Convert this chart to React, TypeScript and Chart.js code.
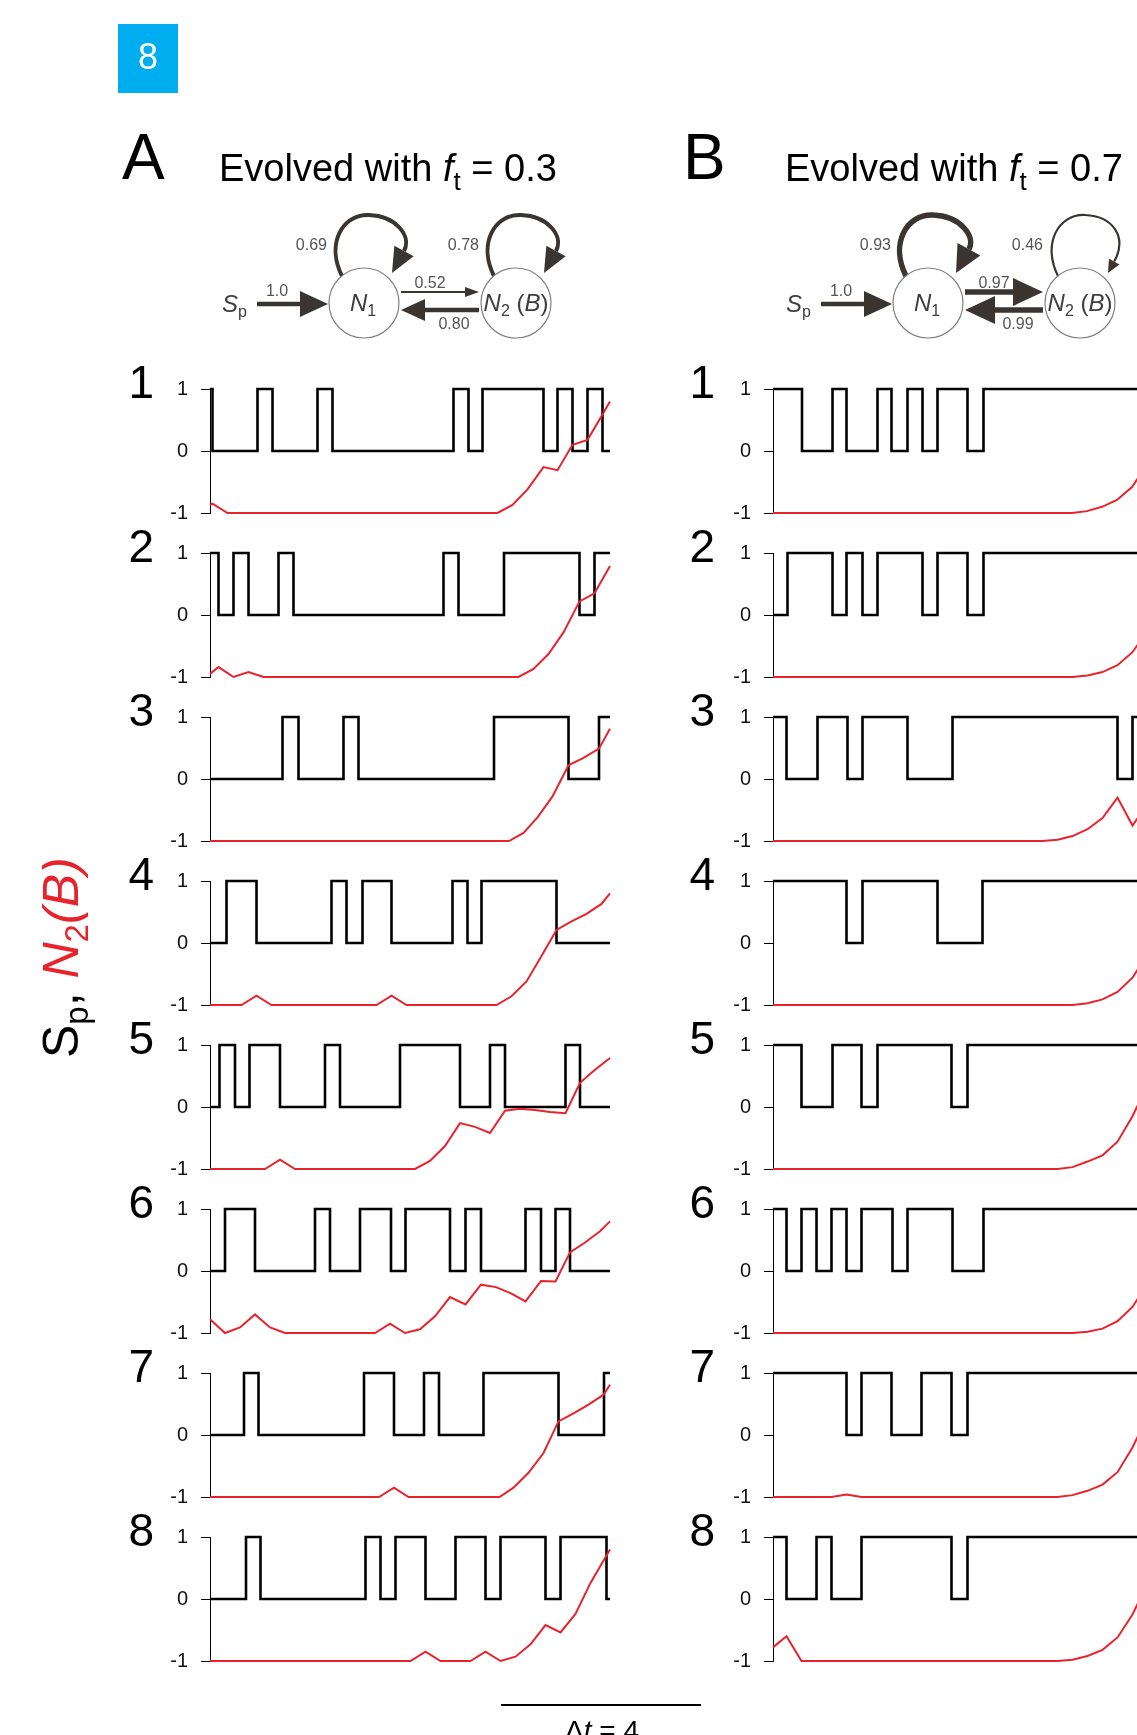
import React, { useEffect, useRef } from "react";
import { Chart, registerables } from "chart.js";

Chart.register(...registerables);

// ---------------- DATA ----------------
const T_MIN = 0;
const T_MAX = 8;
const Y_TICKS = [-1, 0, 1];
const ROW_LABELS = ["1", "2", "3", "4", "5", "6", "7", "8"];

// Panel A (evolved with f_t = 0.3): S_p start value and switch times
const A_SP_START = [1, 1, 0, 0, 0, 0, 0, 0];
const A1_SP_SWITCH = [0.05, 0.95, 1.25, 2.15, 2.45, 4.87, 5.17, 5.45, 6.67, 6.95, 7.25, 7.55, 7.85];
const A2_SP_SWITCH = [0.17, 0.47, 0.77, 1.37, 1.67, 4.67, 4.97, 5.88, 7.39, 7.69];
const A3_SP_SWITCH = [1.45, 1.77, 2.67, 2.97, 5.68, 7.17, 7.78];
const A4_SP_SWITCH = [0.33, 0.93, 2.43, 2.73, 3.05, 3.63, 4.85, 5.15, 5.43, 6.93];
const A5_SP_SWITCH = [0.19, 0.5, 0.79, 1.4, 2.3, 2.6, 3.8, 5.0, 5.6, 5.9, 7.11, 7.4];
const A6_SP_SWITCH = [0.3, 0.9, 2.1, 2.4, 3.0, 3.62, 3.91, 4.8, 5.11, 5.42, 6.31, 6.62, 6.91, 7.2];
const A7_SP_SWITCH = [0.68, 0.97, 3.08, 3.68, 4.28, 4.58, 5.47, 6.97, 7.88];
const A8_SP_SWITCH = [0.72, 1.01, 3.11, 3.41, 3.71, 4.31, 4.91, 5.51, 5.81, 6.71, 7.01, 7.93];

// Panel A: N2(B) output [t, value]
const A1_N2 = [[0, -0.87], [0.05, -0.85], [0.35, -1], [5.75, -1], [6.05, -0.87], [6.35, -0.62], [6.67, -0.26], [6.95, -0.31], [7.25, 0.1], [7.55, 0.18], [7.85, 0.59], [8.0, 0.8]];
const A2_N2 = [[0, -0.95], [0.17, -0.84], [0.47, -1], [0.77, -0.92], [1.07, -1], [6.17, -1], [6.47, -0.87], [6.77, -0.63], [7.07, -0.28], [7.39, 0.22], [7.69, 0.35], [8.0, 0.79]];
const A3_N2 = [[0, -1], [5.98, -1], [6.27, -0.87], [6.55, -0.62], [6.85, -0.28], [7.17, 0.22], [7.47, 0.34], [7.78, 0.49], [8.0, 0.81]];
const A4_N2 = [[0, -1], [0.63, -1], [0.93, -0.85], [1.23, -1], [3.33, -1], [3.63, -0.85], [3.93, -1], [5.73, -1], [6.03, -0.86], [6.33, -0.62], [6.63, -0.21], [6.93, 0.21], [7.23, 0.35], [7.53, 0.47], [7.83, 0.63], [8.0, 0.8]];
const A5_N2 = [[0, -1], [1.1, -1], [1.4, -0.85], [1.7, -1], [4.1, -1], [4.4, -0.87], [4.7, -0.63], [5.0, -0.26], [5.3, -0.32], [5.6, -0.42], [5.9, -0.06], [6.2, -0.03], [6.5, -0.05], [6.8, -0.08], [7.11, -0.1], [7.4, 0.39], [7.7, 0.6], [8.0, 0.79]];
const A6_N2 = [[0, -0.78], [0.3, -1], [0.6, -0.91], [0.9, -0.7], [1.2, -0.91], [1.5, -1], [3.3, -1], [3.6, -0.85], [3.9, -1], [4.2, -0.94], [4.5, -0.73], [4.8, -0.42], [5.11, -0.54], [5.42, -0.22], [5.72, -0.26], [6.02, -0.36], [6.31, -0.49], [6.62, -0.16], [6.91, -0.17], [7.2, 0.3], [7.5, 0.46], [7.8, 0.64], [8.0, 0.8]];
const A7_N2 = [[0, -1], [3.38, -1], [3.68, -0.85], [3.97, -1], [5.79, -1], [6.07, -0.85], [6.37, -0.61], [6.67, -0.29], [6.97, 0.22], [7.27, 0.35], [7.57, 0.49], [7.87, 0.65], [8.0, 0.81]];
const A8_N2 = [[0, -1], [4.01, -1], [4.31, -0.85], [4.61, -1], [5.21, -1], [5.51, -0.85], [5.81, -1], [6.11, -0.93], [6.41, -0.73], [6.71, -0.42], [7.01, -0.54], [7.31, -0.24], [7.61, 0.26], [8.0, 0.8]];

// Panel B (evolved with f_t = 0.7)
const B_SP_START = [1, 0, 1, 1, 1, 1, 1, 1];
const B1_SP_SWITCH = [0.58, 1.19, 1.47, 2.09, 2.37, 2.69, 2.99, 3.29, 3.89, 4.21];
const B2_SP_SWITCH = [0.29, 1.19, 1.47, 1.79, 2.09, 2.99, 3.29, 3.89, 4.21];
const B3_SP_SWITCH = [0.27, 0.89, 1.49, 1.79, 2.69, 3.59, 6.89, 7.19];
const B4_SP_SWITCH = [1.47, 1.79, 3.29, 4.19];
const B5_SP_SWITCH = [0.57, 1.19, 1.77, 2.09, 3.57, 3.89];
const B6_SP_SWITCH = [0.27, 0.57, 0.87, 1.17, 1.47, 1.77, 2.39, 2.69, 3.59, 4.21];
const B7_SP_SWITCH = [1.47, 1.77, 2.37, 2.97, 3.57, 3.89];
const B8_SP_SWITCH = [0.27, 0.87, 1.17, 1.77, 3.57, 3.89];

const B1_N2 = [[0, -1], [5.98, -1], [6.28, -0.97], [6.58, -0.9], [6.88, -0.79], [7.18, -0.58], [7.48, -0.22], [7.78, 0.3], [8.0, 0.8]];
const B2_N2 = [[0, -1], [5.99, -1], [6.29, -0.975], [6.59, -0.92], [6.89, -0.81], [7.19, -0.6], [7.49, -0.25], [7.79, 0.28], [8.0, 0.78]];
const B3_N2 = [[0, -1], [5.39, -1], [5.69, -0.98], [5.99, -0.92], [6.29, -0.81], [6.59, -0.63], [6.89, -0.3], [7.19, -0.75], [7.49, -0.4], [7.79, 0.1], [8.0, 0.55]];
const B4_N2 = [[0, -1], [5.99, -1], [6.29, -0.97], [6.59, -0.91], [6.89, -0.79], [7.19, -0.56], [7.49, -0.18], [7.79, 0.35], [8.0, 0.8]];
const B5_N2 = [[0, -1], [5.69, -1], [5.99, -0.97], [6.29, -0.88], [6.59, -0.78], [6.89, -0.56], [7.19, -0.15], [7.49, 0.35], [7.79, 0.75], [8.0, 0.85]];
const B6_N2 = [[0, -1], [5.99, -1], [6.29, -0.98], [6.59, -0.93], [6.89, -0.81], [7.19, -0.58], [7.49, -0.2], [7.79, 0.3], [8.0, 0.8]];
const B7_N2 = [[0, -1], [1.17, -1], [1.47, -0.96], [1.77, -1], [5.69, -1], [5.99, -0.97], [6.29, -0.9], [6.59, -0.8], [6.89, -0.6], [7.19, -0.2], [7.49, 0.3], [7.79, 0.72], [8.0, 0.85]];
const B8_N2 = [[0, -0.78], [0.27, -0.6], [0.57, -1], [5.69, -1], [5.99, -0.98], [6.29, -0.92], [6.59, -0.82], [6.89, -0.62], [7.19, -0.25], [7.49, 0.25], [7.79, 0.7], [8.0, 0.85]];

// Network weights
const NET_A_WEIGHTS = { sp: "1.0", n1Self: "0.69", n2Self: "0.78", n1n2: "0.52", n2n1: "0.80" };
const NET_B_WEIGHTS = { sp: "1.0", n1Self: "0.93", n2Self: "0.46", n1n2: "0.97", n2n1: "0.99" };
const TITLE_A = "0.3";
const TITLE_B = "0.7";
const SCALE_BAR_DT = "4";

const A_SP_SWITCH = [A1_SP_SWITCH, A2_SP_SWITCH, A3_SP_SWITCH, A4_SP_SWITCH, A5_SP_SWITCH, A6_SP_SWITCH, A7_SP_SWITCH, A8_SP_SWITCH];
const A_N2 = [A1_N2, A2_N2, A3_N2, A4_N2, A5_N2, A6_N2, A7_N2, A8_N2];
const B_SP_SWITCH = [B1_SP_SWITCH, B2_SP_SWITCH, B3_SP_SWITCH, B4_SP_SWITCH, B5_SP_SWITCH, B6_SP_SWITCH, B7_SP_SWITCH, B8_SP_SWITCH];
const B_N2 = [B1_N2, B2_N2, B3_N2, B4_N2, B5_N2, B6_N2, B7_N2, B8_N2];

// ---------------- LAYOUT / STYLE ----------------
const FONT = "'Liberation Sans', Arial, Helvetica, sans-serif";
const RED = "#e8232b";
const ARROW = "#3b3532";
const AXIS_X_A = 210;
const AXIS_X_B = 773;
const ROW_TOP0 = 389;
const ROW_STEP = 164;
const ROW_H = 124;
const PLOT_W = 400;
const Y_W = 70;
const PAD = 30;

function buildSteps(start: number, switches: number[]) {
  const pts = [{ x: T_MIN, y: start }];
  let v = start;
  for (const s of switches) {
    v = 1 - v;
    pts.push({ x: s, y: v });
  }
  pts.push({ x: T_MAX, y: v });
  return pts;
}

function Trace({ axisX, top, spStart, spSwitch, n2 }: any) {
  const ref = useRef<HTMLCanvasElement>(null);
  const W = Y_W + PLOT_W + PAD;
  const H = ROW_H + 2 * PAD;
  useEffect(() => {
    const chart = new Chart(ref.current as HTMLCanvasElement, {
      type: "line",
      data: {
        datasets: [
          {
            data: n2.map((p: number[]) => ({ x: p[0], y: p[1] })),
            borderColor: RED,
            borderWidth: 2,
            pointRadius: 0,
            fill: false,
            clip: false as any,
          },
          {
            data: buildSteps(spStart, spSwitch),
            borderColor: "#000",
            borderWidth: 2.6,
            pointRadius: 0,
            fill: false,
            stepped: "before",
            borderJoinStyle: "miter",
            clip: false as any,
          },
        ],
      },
      options: {
        animation: false,
        responsive: false,
        maintainAspectRatio: false,
        events: [],
        plugins: { legend: { display: false }, tooltip: { enabled: false }, title: { display: false } },
        layout: { padding: { top: PAD, bottom: PAD, left: 0, right: PAD } },
        scales: {
          x: { type: "linear", min: T_MIN, max: T_MAX, display: false },
          y: {
            type: "linear",
            min: -1,
            max: 1,
            afterBuildTicks: (s: any) => {
              s.ticks = Y_TICKS.map((v) => ({ value: v }));
            },
            afterFit: (s: any) => {
              s.width = Y_W;
            },
            ticks: {
              font: { family: FONT, size: 20 },
              color: "#111",
              padding: 13,
              callback: (v: any) => String(v),
            },
            grid: { display: true, drawOnChartArea: false, drawTicks: true, tickLength: 9, color: "#000", lineWidth: 1 },
            border: { display: true, color: "#000", width: 1 },
          },
        },
      },
    } as any);
    return () => chart.destroy();
  }, []);
  return (
    <canvas
      ref={ref}
      width={W}
      height={H}
      style={{ position: "absolute", left: axisX - Y_W, top: top - PAD, width: W, height: H, display: "block" }}
    />
  );
}

function Arrow({ x1, y1, x2, y2, lw, hl, hw }: any) {
  const dx = x2 - x1;
  const dy = y2 - y1;
  const L = Math.hypot(dx, dy);
  const ux = dx / L;
  const uy = dy / L;
  const bx = x2 - ux * hl;
  const by = y2 - uy * hl;
  const px = -uy;
  const py = ux;
  return (
    <g>
      <line x1={x1} y1={y1} x2={bx + ux} y2={by + uy} stroke={ARROW} strokeWidth={lw} />
      <polygon points={`${x2},${y2} ${bx + px * hw},${by + py * hw} ${bx - px * hw},${by - py * hw}`} fill={ARROW} />
    </g>
  );
}

function Loop({ cx, cy, lw, hl, hw }: any) {
  const tipX = cx + 28;
  const tipY = cy - 30;
  const ux = -0.479;
  const uy = 0.878;
  const bx = tipX - ux * hl;
  const by = tipY - uy * hl;
  const px = -uy;
  const py = ux;
  const d = `M ${cx - 22} ${cy - 27} C ${cx - 38} ${cy - 59}, ${cx - 22} ${cy - 89}, ${cx + 5} ${cy - 88} C ${cx + 32} ${cy - 87}, ${cx + 48} ${cy - 67}, ${bx} ${by}`;
  return (
    <g>
      <path d={d} fill="none" stroke={ARROW} strokeWidth={lw} />
      <polygon points={`${tipX},${tipY} ${bx + px * hw},${by + py * hw} ${bx - px * hw},${by - py * hw}`} fill={ARROW} />
    </g>
  );
}

function Network({ cx1, cy, w, s }: any) {
  const cx2 = cx1 + 152;
  const r = 35;
  const mid = (cx1 + cx2) / 2;
  const lab = { fontFamily: FONT, fontSize: 16, fill: "#555" } as any;
  const nodeTxt = { fontFamily: FONT, fontSize: 24, fill: "#3d3d3d" } as any;
  return (
    <g>
      <Loop cx={cx1} cy={cy} lw={s.n1Self.lw} hl={s.n1Self.hl} hw={s.n1Self.hw} />
      <Loop cx={cx2} cy={cy} lw={s.n2Self.lw} hl={s.n2Self.hl} hw={s.n2Self.hw} />
      <circle cx={cx1} cy={cy} r={r} fill="#fff" stroke="#808080" strokeWidth={1.2} />
      <circle cx={cx2} cy={cy} r={r} fill="#fff" stroke="#808080" strokeWidth={1.2} />
      <Arrow x1={cx1 - 107} y1={cy + 1} x2={cx1 - 36} y2={cy + 1} lw={4.5} hl={28} hw={13} />
      <Arrow x1={cx1 + 37} y1={cy - 11} x2={cx2 - 37} y2={cy - 11} lw={s.n1n2.lw} hl={s.n1n2.hl} hw={s.n1n2.hw} />
      <Arrow x1={cx2 - 37} y1={cy + 7} x2={cx1 + 37} y2={cy + 7} lw={s.n2n1.lw} hl={s.n2n1.hl} hw={s.n2n1.hw} />
      <text x={cx1 - 142} y={cy + 9} style={nodeTxt}>
        <tspan fontStyle="italic">S</tspan>
        <tspan fontSize={16} dy={5}>p</tspan>
      </text>
      <text x={cx1 - 87} y={cy - 7} textAnchor="middle" style={lab}>{w.sp}</text>
      <text x={cx1 - 37} y={cy - 53} textAnchor="end" style={lab}>{w.n1Self}</text>
      <text x={cx2 - 37} y={cy - 53} textAnchor="end" style={lab}>{w.n2Self}</text>
      <text x={mid - 10} y={cy - 15} textAnchor="middle" style={lab}>{w.n1n2}</text>
      <text x={mid + 14} y={cy + 26} textAnchor="middle" style={lab}>{w.n2n1}</text>
      <text x={cx1 - 1} y={cy + 8} textAnchor="middle" style={nodeTxt}>
        <tspan fontStyle="italic">N</tspan>
        <tspan fontSize={16} dy={5}>1</tspan>
      </text>
      <text x={cx2} y={cy + 8} textAnchor="middle" style={nodeTxt}>
        <tspan fontStyle="italic">N</tspan>
        <tspan fontSize={16} dy={5}>2</tspan>
        <tspan dy={-5}> (</tspan>
        <tspan fontStyle="italic">B</tspan>
        <tspan>)</tspan>
      </text>
    </g>
  );
}

const STYLE_A = {
  n1Self: { lw: 4, hl: 25, hw: 11 },
  n2Self: { lw: 4, hl: 25, hw: 11 },
  n1n2: { lw: 1.8, hl: 14, hw: 5 },
  n2n1: { lw: 4.5, hl: 24, hw: 11 },
};
const STYLE_B = {
  n1Self: { lw: 5.5, hl: 27, hw: 13 },
  n2Self: { lw: 2.2, hl: 13, hw: 6 },
  n1n2: { lw: 5.5, hl: 30, hw: 14 },
  n2n1: { lw: 5.5, hl: 30, hw: 14 },
};

function Title({ letter, letterX, textX, value }: any) {
  return (
    <g>
      <text x={letterX} y={179} style={{ fontFamily: FONT, fontSize: 64, fill: "#000" }}>
        {letter}
      </text>
      <text x={textX} y={181} style={{ fontFamily: FONT, fontSize: 38, fill: "#000" }}>
        <tspan>Evolved with </tspan>
        <tspan fontStyle="italic">f</tspan>
        <tspan fontSize={26} dy={9}>t</tspan>
        <tspan dy={-9}> = {value}</tspan>
      </text>
    </g>
  );
}

export default function App() {
  const rows = ROW_LABELS.map((_, i) => ROW_TOP0 + i * ROW_STEP);
  const rowLab = { fontFamily: FONT, fontSize: 46, fill: "#000" } as any;
  return (
    <div style={{ position: "absolute", left: 0, top: 0, width: 1137, height: 1735, overflow: "hidden", background: "#fff" }}>
      {rows.map((top, i) => (
        <Trace key={"a" + i} axisX={AXIS_X_A} top={top} spStart={A_SP_START[i]} spSwitch={A_SP_SWITCH[i]} n2={A_N2[i]} />
      ))}
      {rows.map((top, i) => (
        <Trace key={"b" + i} axisX={AXIS_X_B} top={top} spStart={B_SP_START[i]} spSwitch={B_SP_SWITCH[i]} n2={B_N2[i]} />
      ))}
      <svg width={1137} height={1735} style={{ position: "absolute", left: 0, top: 0, pointerEvents: "none" }}>
        <rect x={118} y={24} width={60} height={69} fill="#00aeef" />
        <text x={148} y={69} textAnchor="middle" style={{ fontFamily: FONT, fontSize: 36, fill: "#fff" }}>8</text>
        <Title letter="A" letterX={122} textX={219} value={TITLE_A} />
        <Title letter="B" letterX={683} textX={785} value={TITLE_B} />
        <Network cx1={364} cy={303} w={NET_A_WEIGHTS} s={STYLE_A} />
        <Network cx1={928} cy={303} w={NET_B_WEIGHTS} s={STYLE_B} />
        {rows.map((top, i) => (
          <g key={"l" + i}>
            <text x={AXIS_X_A - 56} y={top + 9} textAnchor="end" style={rowLab}>{ROW_LABELS[i]}</text>
            <text x={AXIS_X_B - 58} y={top + 9} textAnchor="end" style={rowLab}>{ROW_LABELS[i]}</text>
          </g>
        ))}
        <text transform="translate(78,1058) rotate(-90)" style={{ fontFamily: FONT, fontSize: 50, fill: "#000" }}>
          <tspan>S</tspan>
          <tspan fontSize={33} dy={10}>p</tspan>
          <tspan dy={-10}>, </tspan>
          <tspan fill={RED} fontStyle="italic">N</tspan>
          <tspan fill={RED} fontSize={33} dy={10}>2</tspan>
          <tspan fill={RED} fontStyle="italic" dy={-10}>(B)</tspan>
        </text>
        <line x1={501} y1={1705} x2={701} y2={1705} stroke="#000" strokeWidth={2} />
        <text x={602} y={1740} textAnchor="middle" style={{ fontFamily: FONT, fontSize: 28, fill: "#000" }}>
          <tspan>Δ</tspan>
          <tspan fontStyle="italic">t</tspan>
          <tspan> = {SCALE_BAR_DT}</tspan>
        </text>
      </svg>
    </div>
  );
}
